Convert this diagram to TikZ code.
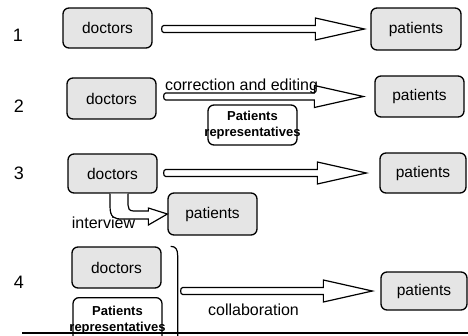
\documentclass[tikz,border=0pt]{standalone}
\usepackage{fontspec}
\setmainfont{Liberation Sans}
\usetikzlibrary{calc}
\tikzset{
 box/.style={draw, line width=1.3pt, rounded corners=6pt, fill=black!10, inner sep=0pt, minimum width=89pt, minimum height=41pt, font=\fontsize{15.5}{18}\selectfont},
 repbox/.style={draw, line width=1.3pt, rounded corners=6pt, fill=white, inner sep=0pt, minimum width=89pt, minimum height=40pt, align=center, font=\bfseries\fontsize{13}{16}\selectfont},
 num/.style={font=\fontsize{18}{20}\selectfont, inner sep=0pt},
 lbl/.style={font=\fontsize{16}{18}\selectfont, inner sep=0pt, anchor=base},
 blockarrow/.style={draw, line width=1.2pt, fill=white, line join=miter},
 bracketline/.style={line width=1.2pt},
}
\newcommand{\blkarrow}[4]{%
  \draw[blockarrow] let \p1=(#1), \p2=(#2) in
   (\x2-#4,\y2) -- (\x2-#4-49pt,\y2+11pt) -- (\x2-#4-49pt,\y2+3.5pt) -- (\x1+#3,\y2+3.5pt)
   to[out=180,in=180] (\x1+#3,\y2-3.5pt) -- (\x2-#4-49pt,\y2-3.5pt) -- (\x2-#4-49pt,\y2-11pt) -- cycle;}
\begin{document}
\begin{tikzpicture}[x=1pt,y=-1pt]
\useasboundingbox (0,0) rectangle (468,335);
% row labels
\node[num] (n1) at (18,35) {1};
\node[num] (n2) at (19,106) {2};
\node[num] (n3) at (19,173) {3};
\node[num] (n4) at (19,282) {4};
% row 1
\node[box, minimum height=40pt] (d1) at (107.5,28) {doctors};
\node[box, minimum width=90pt, minimum height=42pt] (p1) at (416,29) {patients};
\blkarrow{d1.east}{p1.west}{11pt}{6pt}
% row 2
\node[box] (d2) at (111.5,98.5) {doctors};
\node[box] (p2) at (419.5,96.5) {patients};
\blkarrow{d2.east}{p2.west}{9pt}{11pt}
\node[lbl] (t2) at (241.5,90) {correction and editing};
\node[repbox] (pr2) at (252.5,125) {\makebox[0pt]{Patients}\\\makebox[0pt]{representatives}};
% row 3
\node[box, minimum height=39pt] (d3) at (112.5,173.5) {doctors};
\node[box, minimum width=86pt, minimum height=40pt] (p3) at (423,173) {patients};
\blkarrow{d3.east}{p3.west}{8pt}{13pt}
\node[box, minimum height=42pt] (p3b) at (212.5,214) {patients};
\draw[blockarrow] let \p1=(d3.south), \p2=(p3b.west) in
  (\x1-2.5pt,\y1) -- (\x1-2.5pt,\y2+8pt)
  .. controls (\x1-2.5pt,\y2-4pt) and (\x1+2pt,\y2-5pt) .. (\x1+10pt,\y2-5pt)
  -- (\x2-19pt,\y2-5pt) -- (\x2-19pt,\y2-11pt) -- (\x2,\y2) -- (\x2-19pt,\y2+6pt)
  -- (\x2-19pt,\y2+3pt) -- (\x1+21pt,\y2+3pt)
  .. controls (\x1+16.5pt,\y2+3pt) and (\x1+15.5pt,\y2+6pt) .. (\x1+15.5pt,\y2+9pt)
  -- (\x1+15.5pt,\y1);
\node[lbl] (t3) at (103.5,228) {interview};
% row 4
\node[box] (d4) at (116.5,267.5) {doctors};
\node[repbox, anchor=north, minimum height=44pt] (pr4) at (117.5,297) {\makebox[0pt]{Patients}\\\makebox[0pt]{representatives}};
\node[box, minimum width=86pt, minimum height=38pt] (p4) at (424,291) {patients};
\coordinate (brk) at ($(d4.north east)+(16pt,0)$);
\draw[bracketline] let \p1=(d4.north east) in
  (\x1+9pt,\y1) .. controls (\x1+14pt,\y1) and (\x1+16pt,\y1-3pt) .. (\x1+16pt,\y1-9pt) -- (\x1+16pt,\y1-95pt);
\blkarrow{brk}{p4.west}{5pt}{8pt}
\node[lbl] (t4) at (253.5,315) {collaboration};
% bottom rule
\draw[line width=1.3pt] (22,333) -- (468,333);
\end{tikzpicture}
\end{document}
